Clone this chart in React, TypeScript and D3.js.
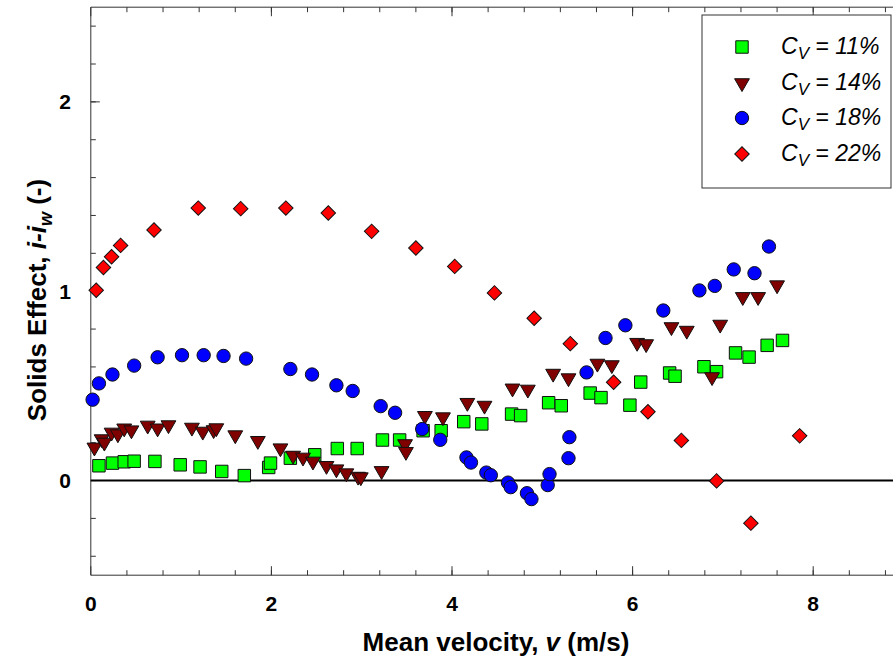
import React, { useEffect, useRef } from 'react';
import * as d3 from 'd3';

// Cv = 11 %
const v11 = [0.09, 0.24, 0.37, 0.48, 0.71, 0.99, 1.21, 1.45, 1.70, 1.97, 1.99, 2.21, 2.48, 2.73, 2.95, 3.23, 3.42, 3.68, 3.88, 4.13, 4.33, 4.66, 4.76, 5.07, 5.21, 5.53, 5.65, 5.97, 6.09, 6.41, 6.47, 6.79, 6.93, 7.14, 7.29, 7.49, 7.66];
const s11 = [0.078, 0.092, 0.099, 0.102, 0.101, 0.083, 0.072, 0.048, 0.026, 0.069, 0.092, 0.118, 0.136, 0.169, 0.169, 0.214, 0.214, 0.263, 0.263, 0.311, 0.299, 0.351, 0.343, 0.411, 0.395, 0.462, 0.438, 0.398, 0.520, 0.568, 0.551, 0.601, 0.575, 0.674, 0.652, 0.714, 0.740];

// Cv = 14 %
const v14 = [0.04, 0.12, 0.15, 0.23, 0.30, 0.37, 0.45, 0.63, 0.74, 0.86, 1.12, 1.24, 1.36, 1.39, 1.60, 1.85, 2.10, 2.24, 2.35, 2.46, 2.61, 2.72, 2.83, 2.96, 2.99, 3.22, 3.48, 3.49, 3.70, 3.90, 4.17, 4.36, 4.67, 4.84, 5.12, 5.29, 5.61, 5.77, 6.05, 6.15, 6.43, 6.60, 6.88, 6.97, 7.22, 7.39, 7.60];
const s14 = [0.175, 0.219, 0.201, 0.254, 0.245, 0.276, 0.266, 0.291, 0.276, 0.293, 0.280, 0.259, 0.267, 0.277, 0.240, 0.210, 0.171, 0.132, 0.122, 0.101, 0.078, 0.060, 0.039, 0.021, 0.018, 0.051, 0.193, 0.152, 0.342, 0.335, 0.411, 0.396, 0.487, 0.481, 0.565, 0.541, 0.618, 0.610, 0.728, 0.721, 0.811, 0.792, 0.547, 0.824, 0.970, 0.970, 1.032];

// Cv = 18 %
const v18 = [0.02, 0.09, 0.24, 0.48, 0.74, 1.01, 1.25, 1.47, 1.72, 2.21, 2.45, 2.72, 2.90, 3.21, 3.37, 3.67, 3.87, 4.16, 4.21, 4.38, 4.43, 4.62, 4.65, 4.83, 4.88, 5.06, 5.08, 5.29, 5.30, 5.49, 5.70, 5.92, 6.34, 6.74, 6.91, 7.12, 7.35, 7.51];
const s18 = [0.427, 0.513, 0.560, 0.607, 0.651, 0.662, 0.662, 0.658, 0.644, 0.589, 0.560, 0.503, 0.473, 0.393, 0.358, 0.272, 0.215, 0.122, 0.095, 0.042, 0.028, -0.011, -0.035, -0.067, -0.098, -0.024, 0.034, 0.118, 0.229, 0.571, 0.753, 0.820, 0.898, 1.004, 1.028, 1.115, 1.095, 1.236];

// Cv = 22 %
const v22 = [0.06, 0.14, 0.23, 0.33, 0.70, 1.19, 1.66, 2.16, 2.63, 3.11, 3.60, 4.03, 4.47, 4.91, 5.31, 5.79, 6.17, 6.54, 6.93, 7.31, 7.85];
const s22 = [1.005, 1.125, 1.182, 1.242, 1.323, 1.439, 1.436, 1.439, 1.413, 1.316, 1.228, 1.131, 0.991, 0.857, 0.723, 0.519, 0.363, 0.212, -0.002, -0.225, 0.236];

const seriesLabels = ['11%', '14%', '18%', '22%'];
const xTicks = [0, 2, 4, 6, 8];
const yTicks = [0, 1, 2];

const W = 893;
const H = 664;
const FONT = 'Liberation Sans, Arial, sans-serif';

export default function App() {
  const ref = useRef<SVGSVGElement>(null);

  useEffect(() => {
    const svg = d3.select(ref.current);
    svg.selectAll('*').remove();

    const x = d3.scaleLinear().domain([0, 9]).range([90.8, 903.5]);
    const y = d3.scaleLinear().domain([-0.5, 2.5]).range([575.2, 7.2]);
    const axisColor = '#333';

    // frame
    const g = svg.append('g');
    g.append('line').attr('x1', x(0)).attr('x2', x(9)).attr('y1', y(-0.5)).attr('y2', y(-0.5)).attr('stroke', axisColor);
    g.append('line').attr('x1', x(0)).attr('x2', x(9)).attr('y1', y(2.5)).attr('y2', y(2.5)).attr('stroke', axisColor);
    g.append('line').attr('x1', x(0)).attr('x2', x(0)).attr('y1', y(-0.5)).attr('y2', y(2.5)).attr('stroke', axisColor);

    // x ticks (bottom + top, inward)
    const xMinor = d3.range(0.4, 9, 0.4);
    xMinor.forEach((t) => {
      g.append('line').attr('x1', x(t)).attr('x2', x(t)).attr('y1', y(-0.5)).attr('y2', y(-0.5) - 5).attr('stroke', axisColor);
      g.append('line').attr('x1', x(t)).attr('x2', x(t)).attr('y1', y(2.5)).attr('y2', y(2.5) + 5).attr('stroke', axisColor);
    });
    xTicks.forEach((t) => {
      g.append('line').attr('x1', x(t)).attr('x2', x(t)).attr('y1', y(-0.5)).attr('y2', y(-0.5) - 9).attr('stroke', axisColor);
      g.append('line').attr('x1', x(t)).attr('x2', x(t)).attr('y1', y(2.5)).attr('y2', y(2.5) + 9).attr('stroke', axisColor);
      g.append('text').attr('x', x(t)).attr('y', 611).attr('text-anchor', 'middle')
        .attr('font-family', FONT).attr('font-weight', 'bold').attr('font-size', 21)
        .text(t);
    });

    // y ticks
    const yMinor = d3.range(-0.4, 2.5, 0.2);
    yMinor.forEach((t) => {
      g.append('line').attr('x1', x(0)).attr('x2', x(0) + 5).attr('y1', y(t)).attr('y2', y(t)).attr('stroke', axisColor);
    });
    yTicks.forEach((t) => {
      g.append('line').attr('x1', x(0)).attr('x2', x(0) + 9).attr('y1', y(t)).attr('y2', y(t)).attr('stroke', axisColor);
      g.append('text').attr('x', 71).attr('y', y(t) + 7.5).attr('text-anchor', 'end')
        .attr('font-family', FONT).attr('font-weight', 'bold').attr('font-size', 21)
        .text(t);
    });

    // zero line
    g.append('line').attr('x1', x(0)).attr('x2', x(9)).attr('y1', y(0)).attr('y2', y(0)).attr('stroke', '#000').attr('stroke-width', 2);

    // axis titles
    const xt = g.append('text').attr('x', 496).attr('y', 651).attr('text-anchor', 'middle')
      .attr('font-family', FONT).attr('font-weight', 'bold').attr('font-size', 26);
    xt.append('tspan').text('Mean velocity, ');
    xt.append('tspan').attr('font-style', 'italic').text('v');
    xt.append('tspan').text(' (m/s)');

    const yt = g.append('text').attr('transform', 'translate(46,300) rotate(-90)').attr('text-anchor', 'middle')
      .attr('font-family', FONT).attr('font-weight', 'bold').attr('font-size', 26);
    yt.append('tspan').text('Solids Effect, ');
    yt.append('tspan').attr('font-style', 'italic').text('i-i');
    yt.append('tspan').attr('font-style', 'italic').attr('font-size', 18).attr('dy', 6).text('w');
    yt.append('tspan').attr('dy', -6).text(' (-)');

    // markers
    const series = [
      { xs: v11, ys: s11, fill: '#00ff00', type: d3.symbolSquare, size: 155, rot: 0 },
      { xs: v14, ys: s14, fill: '#800000', type: d3.symbolTriangle, size: 95, rot: 180 },
      { xs: v18, ys: s18, fill: '#0000ff', type: d3.symbolCircle, size: 140, rot: 0 },
      { xs: v22, ys: s22, fill: '#ff0000', type: d3.symbolSquare, size: 105, rot: 45 },
    ];

    series.forEach((s) => {
      const sym = d3.symbol().type(s.type).size(s.size);
      g.append('g').selectAll('path')
        .data(s.xs.map((v, i) => [v, s.ys[i]]))
        .enter()
        .append('path')
        .attr('d', sym() as string)
        .attr('transform', (d) => 'translate(' + x(d[0]) + ',' + y(d[1]) + ') rotate(' + s.rot + ')')
        .attr('fill', s.fill)
        .attr('stroke', '#111')
        .attr('stroke-width', 1);
    });

    // legend
    const lg = g.append('g');
    lg.append('rect').attr('x', 702).attr('y', 15).attr('width', 189).attr('height', 173)
      .attr('fill', '#fff').attr('stroke', axisColor);
    const rows = [47, 83, 118, 154];
    series.forEach((s, i) => {
      const sym = d3.symbol().type(s.type).size(s.size);
      lg.append('path').attr('d', sym() as string)
        .attr('transform', 'translate(742,' + rows[i] + ') rotate(' + s.rot + ')')
        .attr('fill', s.fill).attr('stroke', '#111');
      const t = lg.append('text').attr('x', 781).attr('y', rows[i] + 7)
        .attr('font-family', FONT).attr('font-style', 'italic').attr('font-size', 23);
      t.append('tspan').text('C');
      t.append('tspan').attr('font-size', 17).attr('dy', 5).text('V');
      t.append('tspan').attr('dy', -5).text(' = ' + seriesLabels[i]);
    });
  }, []);

  return (
    <svg ref={ref} width={W} height={H} style={{ position: 'absolute', left: 0, top: 0, background: '#fff' }} />
  );
}
